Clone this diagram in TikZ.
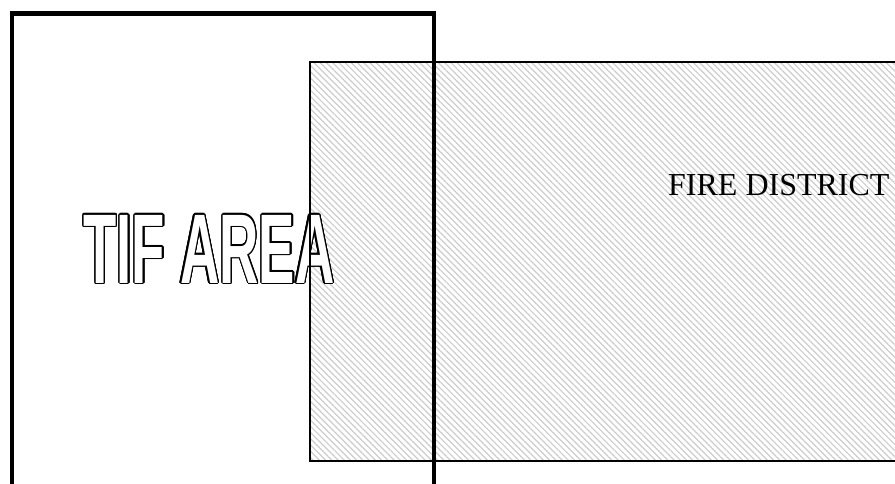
\documentclass[tikz,border=0pt]{standalone}
\usepackage{fontspec}
\setmainfont{Liberation Serif}
\newfontfamily\tiffont{Liberation Sans}
\usepackage{graphicx}
\usepackage{contour}
\contourlength{1.4pt}
\usetikzlibrary{patterns.meta}

\begin{document}
\begin{tikzpicture}[
    x=1pt, y=-1pt,
    area/.style={line width=4.5pt, line cap=rect},
    district/.style={pattern={Lines[angle=-45, distance=4.4pt, line width=1.2pt]}, pattern color=black!20},
    label/.style={inner sep=0pt, font=\fontsize{32}{32}\selectfont},
]
\useasboundingbox (0,0) rectangle (895,483);
\clip (0,0) rectangle (895,483);

% fire district, runs off the right edge
\fill[district] (310,62) rectangle (900,461);
\node[inner sep=0pt, anchor=base] (tif) at (209,283)
    {\tiffont\bfseries\fontsize{99}{99}\selectfont\textcolor{white}{\contour{black}{\scalebox{0.55}[1]{TIF AREA}}}};
\draw[line width=1.2pt] (900,62) -- (310,62) -- (310,461) -- (900,461);
\node[label, anchor=base west] (fire) at (668,195) {FIRE DISTRICT};

% tif area, open at the bottom
\draw[area] (12,495) -- (12,13.5) -- (434,13.5) -- (434,495);
\end{tikzpicture}
\end{document}
